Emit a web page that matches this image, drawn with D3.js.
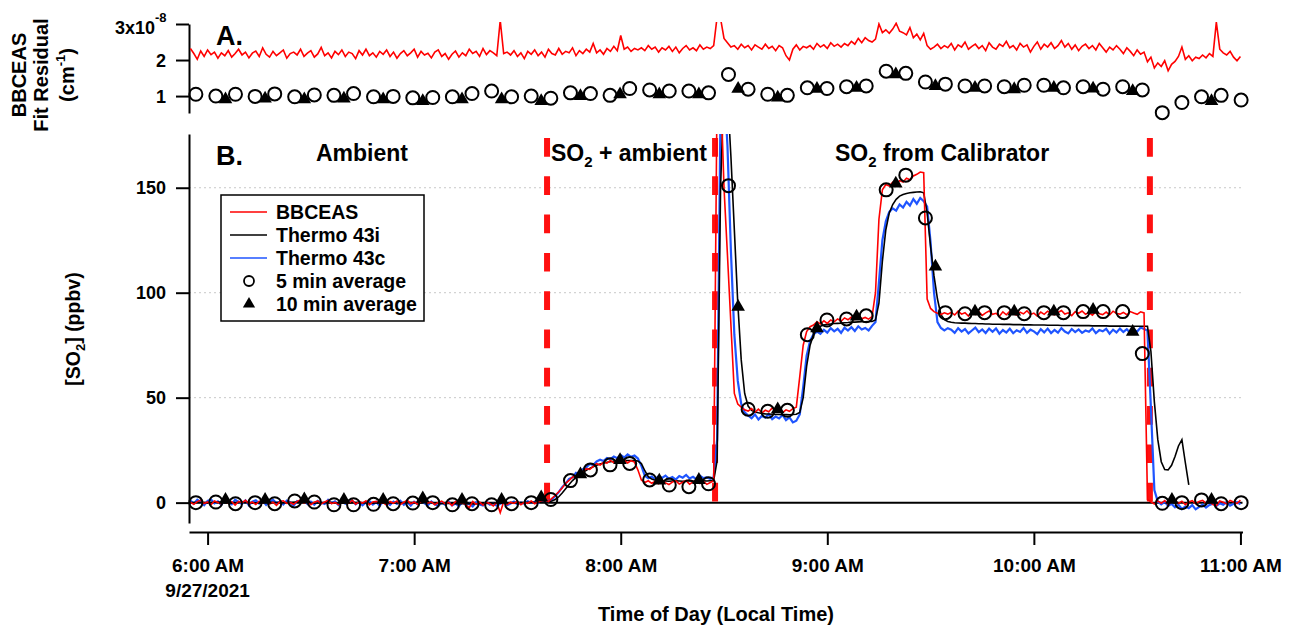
<!DOCTYPE html>
<html lang="en">
<head>
<meta charset="UTF-8">
<title>SO2 BBCEAS vs Thermo</title>
<script src="https://cdn.jsdelivr.net/npm/d3@7"></script>
<style>
    body { margin: 0; background: #fff; }
    svg { font-family: "Liberation Sans", Arial, sans-serif; font-weight: bold; }
    .axis path, .axis line { stroke: #000; stroke-width: 2; }
    .axis text { font-family: "Liberation Sans", Arial, sans-serif; font-weight: bold; fill: #000; }
</style>
</head>
<body>
<svg id="chart" width="1296" height="628"></svg>
<script>
// line series: one value per minute, first sample at 5:55 AM (minute -5 from 6:00)
var lineStart = -5;

// panel A: BBCEAS fit residual (x1e-8 cm-1)
var residual = [
    2.32, 2.18, 2.02, 2.25, 2.10, 2.28, 2.15, 2.22, 2.05, 2.20,
    2.12, 2.26, 2.08, 2.18, 2.30, 2.14, 2.22, 2.06, 2.19, 2.25,
    2.10, 2.34, 2.16, 2.08, 2.24, 2.12, 2.20, 2.28, 2.05, 2.18,
    2.22, 2.14, 2.30, 2.10, 2.19, 2.26, 2.08, 2.17, 2.35, 2.12,
    2.20, 2.06, 2.24, 2.15, 2.28, 2.10, 2.22, 2.18, 2.04, 2.26,
    2.14, 2.30, 2.12, 2.20, 2.08, 2.24, 2.16, 2.28, 2.10, 2.22,
    2.05, 2.18, 2.26, 2.12, 2.20, 2.30, 2.08, 2.24, 2.14, 2.19,
    2.06, 2.22, 2.28, 2.10, 2.18, 2.02, 2.16, 2.25, 2.08, 2.20,
    2.12, 2.30, 2.18, 2.24, 2.10, 2.32, 2.15, 2.26, 2.20, 2.12,
    3.10, 2.18, 2.22, 2.14, 2.26, 2.10, 2.20, 2.04, 2.24, 2.16,
    2.28, 2.12, 2.22, 2.08, 2.30, 2.18, 2.14, 2.32, 2.16, 2.24,
    2.20, 2.34, 2.12, 2.26, 2.18, 2.30, 2.22, 2.46, 2.20, 2.28,
    2.16, 2.32, 2.24, 2.38, 2.26, 2.68, 2.30, 2.36, 2.24, 2.32,
    2.28, 2.34, 2.26, 2.40, 2.30, 2.36, 2.22, 2.34, 2.28, 2.38,
    2.24, 2.36, 2.20, 2.32, 2.40, 2.28, 2.34, 2.26, 2.42, 2.30,
    2.36, 2.32, 2.40, 3.20, 3.15, 2.60, 2.48, 2.36, 2.40, 2.30,
    2.44, 2.34, 2.40, 2.28, 2.42, 2.36, 2.30, 2.44, 2.32, 2.38,
    2.26, 2.40, 2.34, 2.12, 2.00, 2.30, 2.42, 2.28, 2.38, 2.34,
    2.40, 2.30, 2.46, 2.36, 2.42, 2.32, 2.48, 2.38, 2.44, 2.36,
    2.46, 2.40, 2.52, 2.44, 2.60, 2.48, 2.62, 2.54, 2.50, 2.58,
    3.00, 2.76, 2.84, 2.74, 2.86, 3.02, 2.80, 2.76, 2.70, 2.90,
    2.62, 2.72, 2.56, 2.74, 2.40, 2.30, 2.36, 2.44, 2.32, 2.40,
    2.34, 2.46, 2.28, 2.42, 2.36, 2.50, 2.30, 2.38, 2.44, 2.32,
    2.40, 2.26, 2.48, 2.36, 2.30, 2.44, 2.38, 2.52, 2.34, 2.40,
    2.28, 2.46, 2.36, 2.42, 2.22, 2.38, 2.50, 2.30, 2.44, 2.36,
    2.48, 2.32, 2.40, 2.54, 2.36, 2.46, 2.30, 2.42, 2.26, 2.38,
    2.44, 2.32, 2.40, 2.28, 2.46, 2.34, 2.22, 2.36, 2.28, 2.40,
    2.30, 2.18, 2.34, 2.24, 2.12, 2.28, 2.16, 2.22, 1.95, 2.08,
    1.78, 1.92, 1.82, 1.98, 1.70, 1.88, 1.96, 2.10, 2.36, 2.02,
    2.12, 1.98, 2.08, 2.04, 2.14, 2.06, 2.18, 2.10, 3.05, 2.30,
    2.20, 2.14, 2.24, 2.08, 1.98, 2.10
];

// panel B: SO2 (ppbv)
var bbceas = [
    0.2, -0.8, 0.5, 1.2, -0.4, 0.3, -1.0, 0.8, 0.1, -0.6,
    0.9, -0.3, 0.4, -1.2, 0.6, 0.0, 1.1, -0.5, 0.3, -0.9,
    0.7, -0.2, 1.0, -0.7, 0.2, -1.3, 0.5, 0.9, -0.4, 0.1,
    -0.8, 0.6, 1.3, -0.1, 0.4, -1.0, 0.2, 0.8, -0.6, 0.3,
    1.0, -0.5, 0.1, -0.9, 0.7, 0.2, -0.3, 1.2, -0.7, 0.4,
    -0.2, 0.9, -1.1, 0.3, 0.6, -0.4, 0.0, -1.2, 0.5, -0.3,
    0.8, -0.9, 0.2, 1.1, -0.5, 0.3, -0.8, 0.6, 1.8, -0.2,
    0.4, -1.0, 0.1, 0.7, -0.6, 0.2, -1.4, 0.5, -0.3, 0.0,
    -1.1, -2.4, 0.6, -0.8, 0.3, -1.2, 0.2, -0.5, -1.6, 0.2,
    -4.8, 0.4, -0.9, 0.2, -0.4, 0.6, -1.0, 0.1, -0.3, 0.8,
    -0.5, 0.3, 0.9, 1.2, 0.5, 2.0, 3.5, 5.2, 7.0, 9.2,
    10.6, 12.1, 12.8, 13.5, 14.8, 16.2, 15.8, 17.3, 18.6, 17.9,
    19.2, 18.8, 20.1, 19.0, 20.6, 19.4, 20.2, 18.9, 20.0, 19.3,
    15.5, 10.8, 9.6, 10.4, 9.2, 10.1, 9.0, 10.6, 9.4, 8.6,
    9.8, 10.3, 8.9, 9.7, 10.5, 8.8, 9.9, 10.6, 9.1, 10.2,
    8.7, 9.6, 10.4, 200, 200, 150, 118, 85, 52, 47,
    45.5, 44.2, 43.6, 44.8, 43.1, 44.5, 42.8, 44.0, 43.3, 45.1,
    43.6, 44.4, 42.9, 44.2, 43.5, 44.8, 45.5, 60, 75, 81.5,
    83.8, 84.6, 86.2, 85.1, 86.6, 85.4, 87.0, 86.1, 87.5, 86.4,
    88.0, 87.1, 88.4, 87.3, 88.8, 87.6, 88.2, 87.4, 88.6, 100,
    135, 149, 151.5, 150.8, 152.6, 151.9, 153.4, 152.7, 154.5, 153.8,
    155.6, 156.4, 157.5, 157.2, 97, 92.5, 91.0, 90.2, 89.6, 90.4,
    89.8, 90.6, 89.4, 91.2, 89.8, 90.5, 88.9, 90.8, 89.6, 91.0,
    89.2, 90.4, 91.3, 89.7, 90.2, 88.8, 90.9, 89.5, 91.1, 90.0,
    89.3, 90.7, 89.9, 91.4, 89.6, 90.3, 88.9, 90.8, 89.7, 91.2,
    90.1, 89.4, 90.6, 91.5, 89.8, 90.4, 89.1, 90.9, 90.2, 91.3,
    89.7, 90.5, 89.3, 91.0, 90.0, 89.6, 90.8, 89.4, 91.2, 90.1,
    89.8, 90.6, 89.5, 91.0, 90.3, 89.7, 90.9, 90.4, 1.5, 0.4,
    -0.6, 0.8, -0.3, 1.0, -0.8, 0.5, 1.2, -0.4, 0.7, -1.0,
    0.3, 0.9, -0.5, 0.6, 1.1, -0.2, 0.4, -0.9, -1.5, 0.8,
    0.2, -0.6, 1.0, 0.3, -0.4, 1.2
];

var thermo43i = [
    0.0, 0.1, 0.2, 0.1, 0.0, -0.1, 0.0, 0.2, 0.3, 0.2,
    0.1, 0.0, -0.1, 0.0, 0.1, 0.2, 0.1, 0.0, -0.1, -0.2,
    -0.1, 0.0, 0.1, 0.2, 0.2, 0.1, 0.0, -0.1, 0.0, 0.1,
    0.2, 0.3, 0.2, 0.1, 0.0, -0.2, -0.3, -0.2, -0.1, 0.0,
    0.1, 0.0, -0.1, -0.2, -0.3, -0.2, -0.1, 0.0, 0.1, 0.0,
    -0.1, -0.2, -0.4, -0.3, -0.2, -0.1, 0.0, -0.1, -0.2, -0.3,
    -0.2, -0.1, 0.0, 0.1, 0.0, -0.1, -0.2, -0.1, 0.0, 0.1,
    0.0, -0.2, -0.4, -0.5, -0.4, -0.3, -0.4, -0.5, -0.6, -0.5,
    -0.4, -0.5, -0.6, -0.5, -0.4, -0.3, -0.4, -0.3, -0.2, -0.3,
    -0.2, -0.3, -0.2, -0.1, 0.0, -0.1, 0.0, 0.1, 0.2, 0.1,
    0.2, 0.3, 0.2, 0.3, 0.3, 0.8, 1.5, 2.8, 4.6, 6.6,
    8.6, 10.5, 12.0, 13.3, 14.4, 15.4, 16.3, 17.1, 17.8, 18.4,
    18.9, 19.2, 19.5, 19.7, 19.9, 20.0, 20.1, 20.1, 20.0, 20.0,
    19.8, 18.6, 15.2, 12.4, 11.2, 10.7, 10.5, 10.4, 10.3, 10.2,
    10.3, 10.4, 10.3, 10.2, 10.3, 10.4, 10.3, 10.2, 10.3, 10.4,
    10.3, 10.4, 10.5, 20, 150, 200, 195, 165, 130, 95,
    68, 52, 46, 44, 43.2, 42.8, 42.5, 42.3, 42.2, 42.1,
    42.0, 42.0, 41.9, 42.0, 41.9, 42.0, 42.1, 43, 50, 65,
    75, 80, 82.8, 84.0, 84.6, 84.9, 85.1, 85.3, 85.4, 85.5,
    85.7, 85.8, 86.0, 86.0, 86.1, 86.2, 86.2, 86.3, 86.3, 87,
    95, 115, 130, 138, 142, 144.5, 146, 146.8, 147.3, 147.6,
    147.8, 148.0, 148.1, 147.6, 138, 122, 108, 97, 89.5, 87.2,
    86.3, 85.9, 85.7, 85.6, 85.5, 85.5, 85.4, 85.3, 85.3, 85.2,
    85.2, 85.1, 85.1, 85.0, 85.0, 85.0, 84.9, 84.9, 84.9, 84.8,
    84.8, 84.8, 84.7, 84.7, 84.7, 84.6, 84.6, 84.6, 84.6, 84.5,
    84.5, 84.5, 84.5, 84.4, 84.4, 84.4, 84.4, 84.3, 84.3, 84.3,
    84.3, 84.3, 84.2, 84.2, 84.2, 84.2, 84.2, 84.1, 84.1, 84.1,
    84.1, 84.1, 84.1, 84.0, 84.0, 84.0, 84.0, 84.0, 84.0, 72,
    48, 30, 19.5, 15.8, 15.6, 17.8, 22, 27, 30, 19,
    8.5, null, null, null, null, null, null, null, null, null,
    null, null, null, null, null, null
];

var thermo43c = [
    1.0, -0.5, 1.4, 0.2, -1.2, 0.8, 1.5, -0.3, 0.6, -1.0,
    1.2, 0.0, -0.8, 1.4, 0.3, -0.6, 1.0, -1.3, 0.5, 1.1,
    -0.4, 0.9, -1.1, 0.6, 1.3, -0.2, 0.4, -0.9, 1.0, 0.2,
    -1.4, 0.7, 0.1, 1.2, -0.7, 0.5, -1.0, 0.8, 0.0, -0.6,
    1.3, -0.3, 0.6, -1.2, 0.9, -0.5, 0.2, 1.0, -0.8, 0.4,
    -1.3, 0.1, 0.8, -0.9, 0.3, -1.5, 0.6, -0.2, -1.1, 0.5,
    -0.6, 0.9, -1.0, 0.2, -1.4, 0.4, -0.7, 1.0, -0.3, -1.2,
    0.5, -0.8, -1.6, 0.1, -1.0, 0.6, -1.3, -0.4, -1.7, 0.3,
    -1.1, -0.5, -1.8, 0.2, -0.9, -1.4, 0.4, -1.0, -0.3, -1.5,
    -0.6, 0.3, -1.2, -0.4, 0.5, -0.8, 0.1, -0.5, 0.7, 0.0,
    0.4, -0.2, 0.8, 0.5, 0.8, 1.5, 3.2, 5.0, 7.4, 9.1,
    11.3, 12.0, 14.2, 13.6, 16.0, 16.8, 18.4, 17.9, 19.6, 20.4,
    19.8, 21.3, 20.7, 22.0, 21.2, 22.6, 21.5, 23.0, 21.8, 22.4,
    21.0, 17.5, 12.8, 11.6, 12.4, 11.2, 12.6, 11.8, 12.9, 11.4,
    12.2, 11.0, 12.7, 11.9, 13.2, 11.5, 12.3, 11.1, 12.8, 11.7,
    12.0, 11.3, 12.1, 30, 190, 200, 170, 120, 80, 58,
    47, 43, 41.5, 40.2, 42.0, 39.6, 41.3, 40.5, 42.2, 39.8,
    41.0, 40.1, 41.8, 39.3, 40.6, 38.2, 39.0, 42, 55, 70,
    77, 80.2, 81.5, 80.4, 82.3, 81.0, 83.1, 81.6, 82.8, 80.9,
    83.4, 82.0, 83.6, 81.8, 84.0, 82.5, 83.2, 82.0, 84.2, 86,
    105, 125, 134, 138.5, 140.2, 139.1, 142.0, 140.6, 143.3, 141.5,
    144.6, 142.4, 145.1, 143.6, 141.0, 124, 100, 86, 83.2, 82.0,
    83.1, 82.4, 80.9, 83.1, 81.5, 82.7, 80.6, 82.0, 83.4, 81.2,
    82.5, 80.8, 82.9, 81.4, 83.0, 80.5, 82.2, 81.0, 82.8, 80.7,
    82.1, 81.3, 83.2, 80.9, 82.4, 81.6, 80.3, 82.6, 81.1, 82.9,
    80.8, 82.3, 81.0, 83.1, 81.5, 80.6, 82.7, 81.2, 82.5, 80.9,
    82.0, 81.4, 83.0, 80.7, 82.2, 81.6, 82.8, 80.5, 82.4, 81.1,
    82.9, 81.3, 82.6, 80.8, 82.3, 81.5, 83.4, 82.7, 82.0, 45,
    6, 0.5, -0.8, 0.4, -1.5, -0.6, -2.2, -1.0, -3.0, -1.8,
    -2.6, -1.2, -3.2, -2.0, -0.9, -2.4, -1.1, -0.5, -1.6, -0.3,
    -1.0, 0.2, -1.4, -0.6, 0.3, -0.8
];

// 5 min averages: time (minutes after 6:00 AM), SO2, fit residual
var t5 = [-3.4, 2.4, 8.1, 13.8, 19.5, 25.3, 31.0, 36.7, 42.4, 48.2,
    53.9, 59.6, 65.4, 71.1, 76.8, 82.5, 88.3, 94.0, 99.7, 105.4,
    111.2, 116.9, 122.6, 128.4, 134.1, 139.8, 145.5, 151.3, 157.0, 162.7,
    168.4, 174.2, 179.9, 185.6, 191.3, 197.1, 202.8, 208.5, 214.3, 220.0,
    225.7, 231.4, 237.2, 242.9, 248.6, 254.3, 260.1, 265.8, 271.5, 277.3,
    283.0, 288.7, 294.4, 300.2];
var avg5 = [0.0, 0.3, -0.5, 0.0, -0.5, 0.8, 0.3, -1.0, -1.0, -0.8,
    -0.5, -0.2, 0.0, -1.0, -0.5, -1.0, -0.5, 0.0, 1.5, 10.5,
    15.6, 18.0, 18.7, 10.8, 8.4, 7.6, 9.0, 151, 44.5, 43.5,
    44.0, 80, 87, 87.5, 89, 149, 156, 135.6, 90.5, 90,
    90.5, 90.5, 90, 90.5, 90.5, 91, 91, 91, 71, -0.3,
    0, 1.3, -0.5, 0];
var avg5Resid = [1.05, 1.00, 1.05, 0.99, 1.06, 0.98, 1.03, 1.02, 1.07, 0.98,
    0.99, 0.95, 0.96, 0.98, 1.07, 1.14, 0.98, 1.00, 0.94, 1.09,
    1.07, 1.02, 1.21, 1.17, 1.14, 1.14, 1.09, 1.60, 1.19, 1.05,
    1.02, 1.23, 1.21, 1.26, 1.28, 1.69, 1.63, 1.39, 1.33, 1.28,
    1.28, 1.26, 1.30, 1.30, 1.23, 1.26, 1.19, 1.26, 1.17, 0.54,
    0.82, 0.98, 1.02, 0.89];

// 10 min averages
var t10 = [5.2, 16.7, 28.1, 39.6, 51.0, 62.5, 73.9, 85.4, 96.9, 108.3,
    119.8, 131.2, 142.7, 154.1, 165.6, 177.0, 188.5, 199.9, 211.4, 222.9,
    234.3, 245.8, 257.2, 268.7, 280.1, 291.6];
var avg10 = [1.3, 1.3, 1.6, 1.3, 1.3, 2.0, 1.3, 1.3, 2.5, 13.5,
    20.3, 10.5, 10.8, 93.3, 44.4, 83, 88.6, 152, 112.4, 91,
    91, 91, 91.8, 81.4, 1.3, 1.3];
var avg10Resid = [0.91, 0.93, 0.91, 0.93, 0.91, 0.86, 0.91, 0.91, 0.86, 1.00,
    1.05, 1.05, 1.05, 1.20, 0.96, 1.20, 1.23, 1.60, 1.28, 1.23,
    1.19, 1.23, 1.21, 1.14, null, 0.86];

// phase boundaries (minutes after 6:00 AM) and labels
var phaseTimes = [98.6, 147.4, 273.7];
var hourTicks = [6, 7, 8, 9, 10, 11];
var so2Ticks = [0, 50, 100, 150];
var gridTicks = [50, 100, 150];
var residTicks = [1, 2, 3];
var residTickLabels = ["1", "2", "3x10"];

(function () {
    var svg = d3.select("#chart");
    var base = new Date(2021, 8, 27, 6, 0, 0);
    function at(min) { return new Date(base.getTime() + min * 60000); }

    var x = d3.scaleTime().domain([at(-5.4), at(300.6)]).range([189, 1242.5]);
    var yA = d3.scaleLinear().domain([0.53, 3.0]).range([113, 24]);
    var yB = d3.scaleLinear().domain([-9.7, 175.6]).range([523, 134]);

    function series(vals) {
        return vals.map(function (v, i) { return {t: at(lineStart + i), v: v}; });
    }
    function pts(ts, vs) {
        return ts.map(function (t, i) { return {t: at(t), v: vs[i]}; })
            .filter(function (d) { return d.v != null; });
    }

    var defs = svg.append("defs");
    defs.append("clipPath").attr("id", "clipA").append("rect")
        .attr("x", 189).attr("y", 22).attr("width", 1054).attr("height", 93);
    defs.append("clipPath").attr("id", "clipB").append("rect")
        .attr("x", 189).attr("y", 134).attr("width", 1054).attr("height", 389);

    // ---------- panel A ----------
    var axA = svg.append("g").attr("class", "axis")
        .attr("transform", "translate(189,0)")
        .call(d3.axisLeft(yA).tickValues(residTicks).tickSize(13).tickSizeOuter(0).tickFormat(""));
    axA.selectAll(".tick").each(function (d, i) {
        var t = d3.select(this).append("text")
            .attr("x", -23).attr("dy", "0.35em")
            .attr("text-anchor", "end")
            .style("font-size", "18px");
        if (i === residTicks.length - 1) {
            t.attr("x", -34).attr("dy", "0.5em").text(residTickLabels[i]);
            d3.select(this).append("text")
                .attr("x", -34).attr("y", -3)
                .attr("text-anchor", "start")
                .style("font-size", "13px")
                .text("-8");
        } else {
            t.text(residTickLabels[i]);
        }
    });

    var lineA = d3.line()
        .x(function (d) { return x(d.t); })
        .y(function (d) { return yA(d.v); });
    svg.append("path")
        .datum(series(residual))
        .attr("clip-path", "url(#clipA)")
        .attr("fill", "none").attr("stroke", "#ff0000").attr("stroke-width", 1.6)
        .attr("d", lineA);

    svg.append("g").selectAll("circle")
        .data(pts(t5, avg5Resid)).enter().append("circle")
        .attr("cx", function (d) { return x(d.t); })
        .attr("cy", function (d) { return yA(d.v); })
        .attr("r", 6.5).attr("fill", "none").attr("stroke", "#000").attr("stroke-width", 2);

    var tri = d3.symbol().type(d3.symbolTriangle).size(80);
    svg.append("g").selectAll("path")
        .data(pts(t10, avg10Resid)).enter().append("path")
        .attr("d", tri)
        .attr("transform", function (d) { return "translate(" + x(d.t) + "," + yA(d.v) + ")"; })
        .attr("fill", "#000");

    svg.append("text").attr("x", 216).attr("y", 45)
        .style("font-size", "27px").text("A.");

    var leftA = [["BBCEAS", 26], ["Fit Residual", 48]];
    leftA.forEach(function (l) {
        svg.append("text")
            .attr("transform", "translate(" + l[1] + ",75) rotate(-90)")
            .attr("text-anchor", "middle").style("font-size", "20px").text(l[0]);
    });
    var cm = svg.append("text")
        .attr("transform", "translate(74,75) rotate(-90)")
        .attr("text-anchor", "middle").style("font-size", "20px");
    cm.append("tspan").text("(cm");
    cm.append("tspan").attr("dy", -9).style("font-size", "13px").text("-1");
    cm.append("tspan").attr("dy", 9).text(")");

    // ---------- panel B ----------
    svg.append("g").selectAll("line")
        .data(gridTicks).enter().append("line")
        .attr("x1", 189).attr("x2", 1242.5)
        .attr("y1", function (d) { return yB(d); })
        .attr("y2", function (d) { return yB(d); })
        .attr("stroke", "#c8c8c8").attr("stroke-width", 1).attr("stroke-dasharray", "2,3");

    svg.append("line")
        .attr("x1", 189).attr("x2", 1242.5)
        .attr("y1", yB(0)).attr("y2", yB(0))
        .attr("stroke", "#000").attr("stroke-width", 2);

    svg.append("g").selectAll("line")
        .data(phaseTimes).enter().append("line")
        .attr("x1", function (d) { return x(at(d)); })
        .attr("x2", function (d) { return x(at(d)); })
        .attr("y1", 138).attr("y2", 506)
        .attr("stroke", "#ff1010").attr("stroke-width", 6)
        .attr("stroke-dasharray", "18.7,19.6");

    var lineB = d3.line()
        .defined(function (d) { return d.v != null; })
        .x(function (d) { return x(d.t); })
        .y(function (d) { return yB(d.v); });

    var gB = svg.append("g").attr("clip-path", "url(#clipB)");
    gB.append("path").datum(series(thermo43c))
        .attr("fill", "none").attr("stroke", "#1f55ff").attr("stroke-width", 2.2)
        .attr("d", lineB);
    gB.append("path").datum(series(thermo43i))
        .attr("fill", "none").attr("stroke", "#000").attr("stroke-width", 1.6)
        .attr("d", lineB);
    gB.append("path").datum(series(bbceas))
        .attr("fill", "none").attr("stroke", "#ff0000").attr("stroke-width", 1.6)
        .attr("d", lineB);

    svg.append("g").selectAll("circle")
        .data(pts(t5, avg5)).enter().append("circle")
        .attr("cx", function (d) { return x(d.t); })
        .attr("cy", function (d) { return yB(d.v); })
        .attr("r", 6.5).attr("fill", "none").attr("stroke", "#000").attr("stroke-width", 2);

    svg.append("g").selectAll("path")
        .data(pts(t10, avg10)).enter().append("path")
        .attr("d", tri)
        .attr("transform", function (d) { return "translate(" + x(d.t) + "," + yB(d.v) + ")"; })
        .attr("fill", "#000");

    // axes
    svg.append("g").attr("class", "axis")
        .attr("transform", "translate(189,0)")
        .call(d3.axisLeft(yB).tickValues(so2Ticks).tickSize(13).tickSizeOuter(0).tickPadding(10))
        .selectAll("text").style("font-size", "18px");

    var fmt = d3.timeFormat("%-I:%M %p");
    svg.append("g").attr("class", "axis")
        .attr("transform", "translate(0,532)")
        .call(d3.axisBottom(x)
            .tickValues(hourTicks.map(function (h) { return at((h - 6) * 60); }))
            .tickFormat(fmt).tickSize(13).tickSizeOuter(0).tickPadding(14))
        .selectAll("text").style("font-size", "19px");

    svg.append("text").attr("x", x(at(0))).attr("y", 597)
        .attr("text-anchor", "middle").style("font-size", "19px").text("9/27/2021");

    svg.append("text").attr("x", 716).attr("y", 621)
        .attr("text-anchor", "middle").style("font-size", "20px")
        .text("Time of Day (Local Time)");

    var yl = svg.append("text")
        .attr("transform", "translate(80,329) rotate(-90)")
        .attr("text-anchor", "middle").style("font-size", "19.5px");
    yl.append("tspan").text("[SO");
    yl.append("tspan").attr("dy", 5).style("font-size", "13px").text("2");
    yl.append("tspan").attr("dy", -5).text("] (ppbv)");

    svg.append("text").attr("x", 216).attr("y", 165)
        .style("font-size", "27px").text("B.");

    function so2Label(xp, rest) {
        var t = svg.append("text").attr("x", xp).attr("y", 161).style("font-size", "23px");
        t.append("tspan").text("SO");
        t.append("tspan").attr("dy", 6).style("font-size", "15px").text("2");
        t.append("tspan").attr("dy", -6).text(rest);
    }
    svg.append("text").attr("x", 316).attr("y", 161).style("font-size", "23px").text("Ambient");
    so2Label(551, " + ambient");
    so2Label(835, " from Calibrator");

    // legend
    var legendItems = [
        {label: "BBCEAS", type: "line", color: "#ff0000"},
        {label: "Thermo 43i", type: "line", color: "#000"},
        {label: "Thermo 43c", type: "line", color: "#1f55ff"},
        {label: "5 min average", type: "circle"},
        {label: "10 min average", type: "triangle"}
    ];
    var lg = svg.append("g");
    lg.append("rect").attr("x", 221).attr("y", 195).attr("width", 203).attr("height", 126)
        .attr("fill", "#fff").attr("stroke", "#000").attr("stroke-width", 1.5);
    legendItems.forEach(function (it, i) {
        var cy = 212 + i * 23;
        if (it.type === "line") {
            lg.append("line").attr("x1", 230).attr("x2", 267).attr("y1", cy).attr("y2", cy)
                .attr("stroke", it.color).attr("stroke-width", 1.6);
        } else if (it.type === "circle") {
            lg.append("circle").attr("cx", 249).attr("cy", cy).attr("r", 5)
                .attr("fill", "none").attr("stroke", "#000").attr("stroke-width", 1.8);
        } else {
            lg.append("path").attr("d", d3.symbol().type(d3.symbolTriangle).size(65))
                .attr("transform", "translate(249," + cy + ")").attr("fill", "#000");
        }
        lg.append("text").attr("x", 276).attr("y", cy).attr("dy", "0.36em")
            .style("font-size", "19.5px").text(it.label);
    });
})();
</script>
</body>
</html>
